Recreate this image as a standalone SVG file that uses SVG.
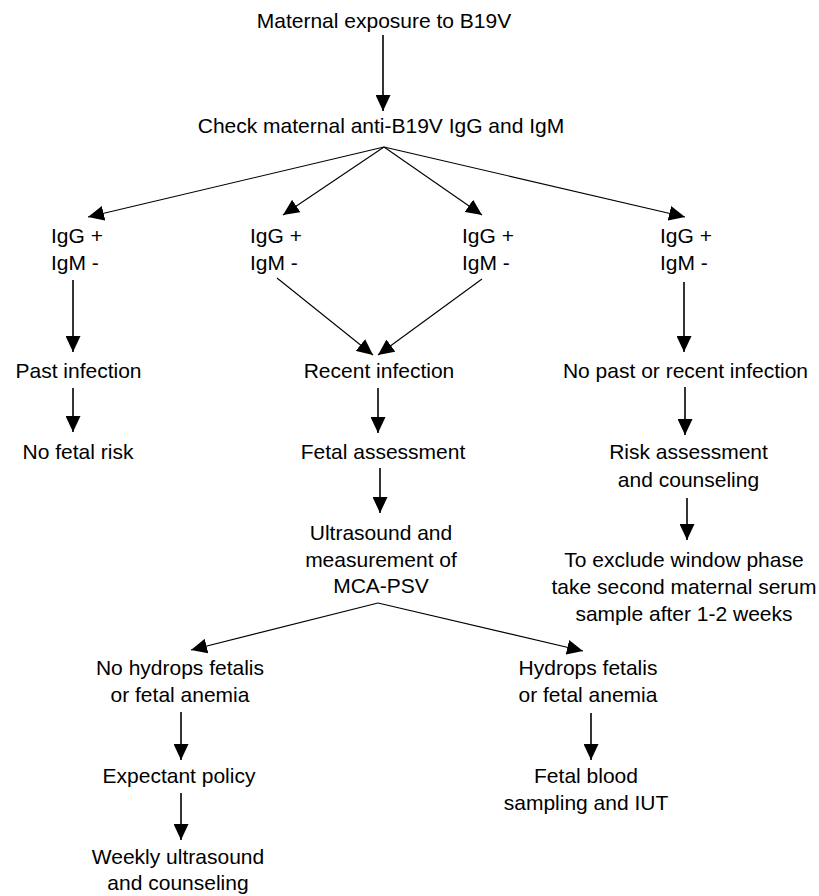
<svg xmlns="http://www.w3.org/2000/svg" width="819" height="896" viewBox="0 0 819 896">
<style>
text{font-family:"Liberation Sans",Arial,Helvetica,sans-serif;font-size:21px;fill:#000}
.c{text-anchor:middle}
.v{stroke:#000;stroke-width:1.6;fill:none}
.d{stroke:#000;stroke-width:1.1;fill:none}
</style>
<defs>
<marker id="ah" viewBox="0 0 16 15" refX="16" refY="7.5" markerWidth="16" markerHeight="15" markerUnits="userSpaceOnUse" orient="auto">
<path d="M0,0 L16,7.5 L0,15 z" fill="#000"/>
</marker>
</defs>
<rect width="819" height="896" fill="#fff"/>
<g id="connectors">
<line class="v" x1="383" y1="35" x2="383" y2="111" marker-end="url(#ah)"/>
<line class="d" x1="384" y1="147" x2="88" y2="217" marker-end="url(#ah)"/>
<line class="d" x1="384" y1="147" x2="283" y2="215" marker-end="url(#ah)"/>
<line class="d" x1="384" y1="147" x2="482" y2="215" marker-end="url(#ah)"/>
<line class="d" x1="384" y1="147" x2="685" y2="217" marker-end="url(#ah)"/>
<line class="v" x1="73" y1="280" x2="73" y2="352" marker-end="url(#ah)"/>
<line class="v" x1="73" y1="388" x2="73" y2="432" marker-end="url(#ah)"/>
<line class="d" x1="277" y1="278" x2="373" y2="355" marker-end="url(#ah)"/>
<line class="d" x1="482" y1="279" x2="378" y2="355" marker-end="url(#ah)"/>
<line class="v" x1="684" y1="282" x2="684" y2="352" marker-end="url(#ah)"/>
<line class="v" x1="685" y1="387" x2="685" y2="435" marker-end="url(#ah)"/>
<line class="v" x1="687" y1="498" x2="687" y2="540" marker-end="url(#ah)"/>
<line class="v" x1="378" y1="388" x2="378" y2="433" marker-end="url(#ah)"/>
<line class="v" x1="380" y1="468" x2="380" y2="513" marker-end="url(#ah)"/>
<line class="d" x1="378" y1="603" x2="191" y2="650" marker-end="url(#ah)"/>
<line class="d" x1="378" y1="603" x2="583" y2="651" marker-end="url(#ah)"/>
<line class="v" x1="181" y1="712" x2="181" y2="760" marker-end="url(#ah)"/>
<line class="v" x1="181" y1="793" x2="181" y2="840" marker-end="url(#ah)"/>
<line class="v" x1="591" y1="713" x2="591" y2="760" marker-end="url(#ah)"/>
</g>
<g id="exposure"><text class="c" x="384" y="28">Maternal exposure to B19V</text></g>
<g id="check"><text class="c" x="381" y="133">Check maternal anti-B19V IgG and IgM</text></g>
<g id="res1"><text x="51" y="243">IgG +</text><text x="51" y="270">IgM -</text></g>
<g id="res2"><text x="250" y="243">IgG +</text><text x="250" y="270">IgM -</text></g>
<g id="res3"><text x="462" y="243">IgG +</text><text x="462" y="270">IgM -</text></g>
<g id="res4"><text x="660" y="243">IgG +</text><text x="660" y="270">IgM -</text></g>
<g id="past"><text class="c" x="78.5" y="378">Past infection</text></g>
<g id="nofetalrisk"><text class="c" x="78" y="459">No fetal risk</text></g>
<g id="recent"><text class="c" x="379" y="378">Recent infection</text></g>
<g id="fetalassess"><text class="c" x="383" y="459">Fetal assessment</text></g>
<g id="ultrasound"><text class="c" x="381" y="540">Ultrasound and</text><text class="c" x="381" y="566.5">measurement of</text><text class="c" x="381" y="593">MCA-PSV</text></g>
<g id="nopast"><text class="c" x="685.5" y="378">No past or recent infection</text></g>
<g id="risk"><text class="c" x="688.5" y="459">Risk assessment</text><text class="c" x="688.5" y="487">and counseling</text></g>
<g id="exclude"><text class="c" x="684" y="567">To exclude window phase</text><text class="c" x="684" y="594">take second maternal serum</text><text class="c" x="684" y="621">sample after 1-2 weeks</text></g>
<g id="nohydrops"><text class="c" x="180" y="675">No hydrops fetalis</text><text class="c" x="180" y="702">or fetal anemia</text></g>
<g id="hydrops"><text class="c" x="588" y="675">Hydrops fetalis</text><text class="c" x="588" y="702">or fetal anemia</text></g>
<g id="expectant"><text class="c" x="179" y="783">Expectant policy</text></g>
<g id="weekly"><text class="c" x="178" y="864">Weekly ultrasound</text><text class="c" x="178" y="890">and counseling</text></g>
<g id="fbs"><text class="c" x="586" y="783">Fetal blood</text><text class="c" x="586" y="810">sampling and IUT</text></g>
</svg>
